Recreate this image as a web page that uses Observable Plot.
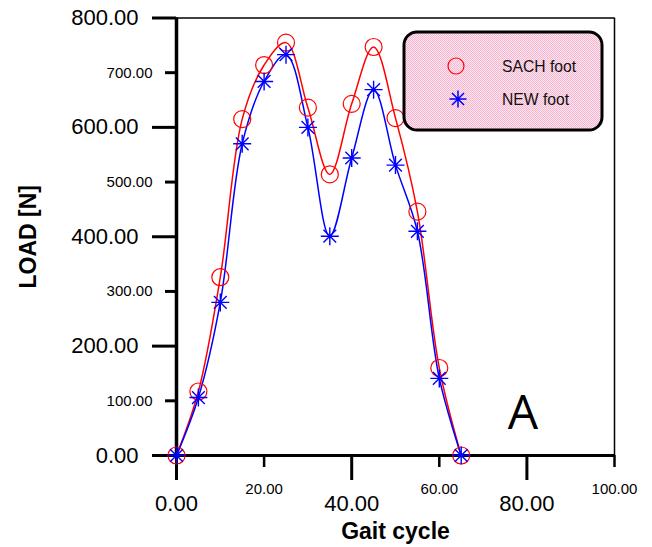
<!DOCTYPE html>
<html>
<head>
<meta charset="utf-8">
<script src="https://cdn.jsdelivr.net/npm/d3@7"></script>
<script src="https://cdn.jsdelivr.net/npm/@observablehq/plot@0.6"></script>
<style>
  html, body { margin: 0; padding: 0; background: white; }
  #chart { width: 652px; height: 547px; }
</style>
</head>
<body>
<div id="chart"></div>
<script>
// ---- data ----
const gait = [0, 5, 10, 15, 20, 25, 30, 35, 40, 45, 50, 55, 60, 65];
const sachLoad = [0, 117, 326, 615, 714, 755, 636, 514, 643, 747, 617, 446, 160, 0];
const newLoad  = [0, 106, 280, 570, 684, 733, 600, 401, 544, 669, 531, 410, 141, 0];
const seriesNames = ["SACH foot", "NEW foot"];
const yMajor = [0, 200, 400, 600, 800];
const yMinor = [100, 300, 500, 700];
const xMajor = [0, 40, 80];
const xMinor = [20, 60, 100];
const panelLabel = ["A"];

const sachRows = gait.map((g, i) => ({gait: g, load: sachLoad[i]}));
const newRows = gait.map((g, i) => ({gait: g, load: newLoad[i]}));

const asterisk8 = {
  draw(ctx, size) {
    const r = Math.sqrt(size / Math.PI);
    const d = r * Math.SQRT1_2;
    ctx.moveTo(-r, 0); ctx.lineTo(r, 0);
    ctx.moveTo(0, -r); ctx.lineTo(0, r);
    ctx.moveTo(-d, -d); ctx.lineTo(d, d);
    ctx.moveTo(-d, d); ctx.lineTo(d, -d);
  }
};

const fmt = d3.format(".2f");
const font = "'Liberation Sans', Arial, Helvetica, sans-serif";

const plot = Plot.plot({
  width: 652,
  height: 547,
  marginLeft: 176,
  marginRight: 38,
  marginTop: 17.5,
  marginBottom: 92,
  x: {domain: [0, 100]},
  y: {domain: [0, 800]},
  style: {fontFamily: font, background: "white", color: "black"},
  marks: [
    Plot.ruleY([800], {stroke: "black", strokeWidth: 1.5}),
    Plot.ruleX([100], {stroke: "black", strokeWidth: 1.5}),
    Plot.axisY(yMajor, {tickSize: 24, tickPadding: 14, fontSize: 22, strokeWidth: 3, tickFormat: fmt, label: null}),
    Plot.axisY(yMinor, {tickSize: 11, tickPadding: 13, fontSize: 15, strokeWidth: 3, tickFormat: fmt, label: null}),
    Plot.axisX(xMajor, {tickSize: 25, tickPadding: 15, fontSize: 22, strokeWidth: 3, tickFormat: fmt, label: null}),
    Plot.axisX(xMinor, {tickSize: 12, tickPadding: 16, fontSize: 15, strokeWidth: 2.5, tickFormat: fmt, label: null}),
    Plot.ruleX([0], {stroke: "black", strokeWidth: 3.5}),
    Plot.ruleY([0], {stroke: "black", strokeWidth: 3}),
    Plot.line(sachRows, {x: "gait", y: "load", stroke: "#ff0000", strokeWidth: 1.5, curve: "catmull-rom"}),
    Plot.line(newRows, {x: "gait", y: "load", stroke: "#0000ff", strokeWidth: 1.5, curve: "catmull-rom"}),
    Plot.dot(sachRows, {x: "gait", y: "load", r: 8.5, stroke: "#ff0000", fill: "none", strokeWidth: 1.2}),
    Plot.dot(newRows, {x: "gait", y: "load", r: 9, symbol: asterisk8, stroke: "#0000ff", fill: "none", strokeWidth: 1.4}),
    Plot.text(panelLabel, {frameAnchor: "bottom-right", dx: -91.5, dy: -41.5, fontSize: 48, fontFamily: "'Open Sans', sans-serif", textAnchor: "middle", lineAnchor: "middle", fill: "black"}),
    Plot.text(["Gait cycle"], {frameAnchor: "bottom", dy: 76, fontSize: 23, fontWeight: "bold", textAnchor: "middle", lineAnchor: "middle", fill: "black"}),
    Plot.text(["LOAD [N]"], {frameAnchor: "left", dx: -148, rotate: -90, fontSize: 23, fontWeight: "bold", textAnchor: "middle", lineAnchor: "middle", fill: "black"})
  ]
});

document.getElementById("chart").appendChild(plot);

// ---- legend box (drawn into the same SVG) ----
const svg = d3.select(plot);
const defs = svg.append("defs");
const pat = defs.append("pattern")
  .attr("id", "pinkdots").attr("width", 2).attr("height", 2)
  .attr("patternUnits", "userSpaceOnUse");
pat.append("rect").attr("width", 2).attr("height", 2).attr("fill", "#fde8f1");
pat.append("rect").attr("width", 1).attr("height", 1).attr("fill", "#f6b4cf");
pat.append("rect").attr("x", 1).attr("y", 1).attr("width", 1).attr("height", 1).attr("fill", "#f6b4cf");

const lg = svg.append("g");
lg.append("rect")
  .attr("x", 404).attr("y", 32).attr("width", 198).attr("height", 98)
  .attr("rx", 13).attr("ry", 13)
  .attr("fill", "url(#pinkdots)").attr("stroke", "black").attr("stroke-width", 3);
lg.append("circle").attr("cx", 456).attr("cy", 66).attr("r", 8)
  .attr("fill", "none").attr("stroke", "#ff0000").attr("stroke-width", 1.2);
const sp = d3.path();
asterisk8.draw(sp, 8.5 * 8.5 * Math.PI);
lg.append("path").attr("d", sp.toString()).attr("transform", "translate(458,99)")
  .attr("fill", "none").attr("stroke", "#0000ff").attr("stroke-width", 1.5);
lg.selectAll("text.lt").data(seriesNames).join("text")
  .attr("x", 502).attr("y", (d, i) => 71.5 + i * 33)
  .attr("text-anchor", "start")
  .attr("font-family", font).attr("font-size", 15.7).attr("fill", "#111")
  .text(d => d);
</script>
</body>
</html>
